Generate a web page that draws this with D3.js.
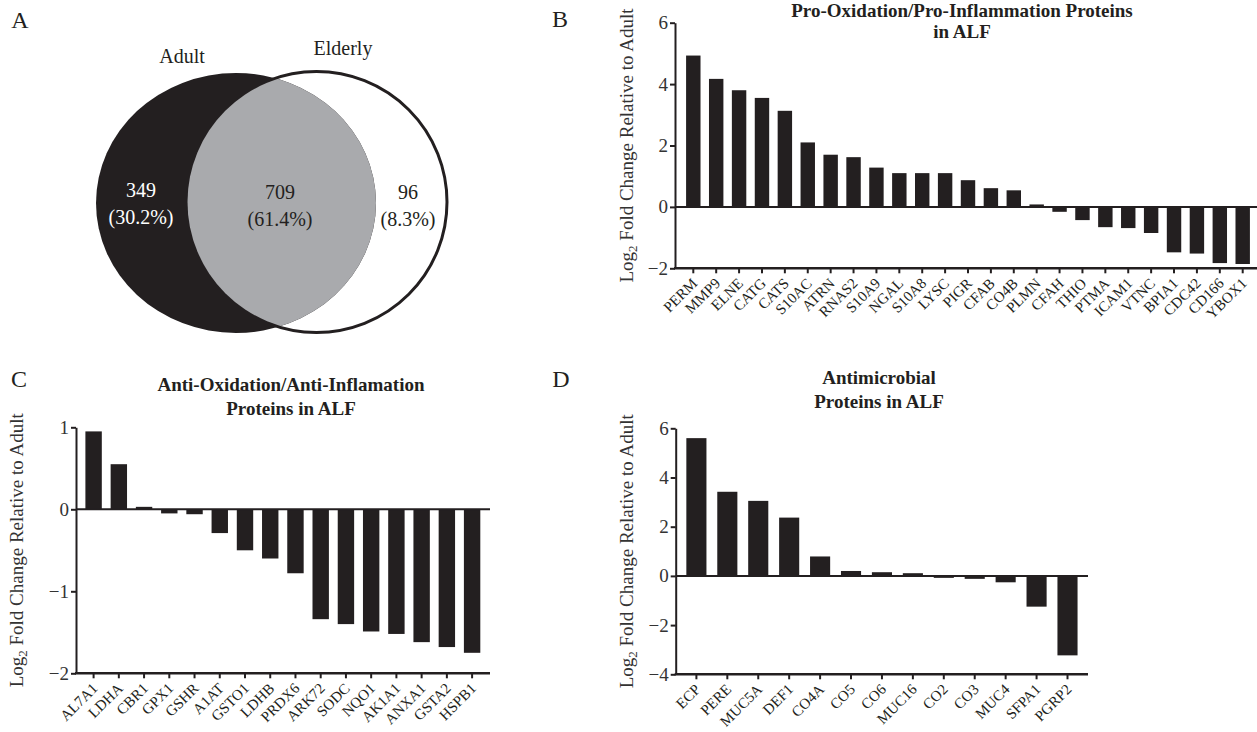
<!DOCTYPE html>
<html>
<head>
<meta charset="utf-8">
<script src="https://cdn.jsdelivr.net/npm/d3@7"></script>
<style>
  html, body { margin: 0; padding: 0; background: #fff; }
  svg { display: block; font-family: "Liberation Serif", "DejaVu Serif", serif; }
</style>
</head>
<body>
<svg id="chart" width="1257" height="732"></svg>
<script>
// ---------------- DATA ----------------
const vennSets = ["Adult", "Elderly"];
const vennCounts = [349, 709, 96];
const vennPercents = ["30.2%", "61.4%", "8.3%"];

const proCategories = ["PERM","MMP9","ELNE","CATG","CATS","S10AC","ATRN","RNAS2","S10A9","NGAL","S10A8","LYSC","PIGR","CFAB","CO4B","PLMN","CFAH","THIO","PTMA","ICAM1","VTNC","BPIA1","CDC42","CD166","YBOX1"];
const proValues = [4.93, 4.17, 3.8, 3.55, 3.13, 2.1, 1.7, 1.62, 1.28, 1.1, 1.1, 1.1, 0.87, 0.61, 0.54, 0.08, -0.16, -0.43, -0.66, -0.69, -0.85, -1.48, -1.52, -1.83, -1.86];
const proTicks = [-2, 0, 2, 4, 6];

const antiOxCategories = ["AL7A1","LDHA","CBR1","GPX1","GSHR","A1AT","GSTO1","LDHB","PRDX6","ARK72","SODC","NQO1","AK1A1","ANXA1","GSTA2","HSPB1"];
const antiOxValues = [0.95, 0.55, 0.03, -0.05, -0.06, -0.29, -0.5, -0.6, -0.78, -1.34, -1.4, -1.49, -1.52, -1.62, -1.68, -1.75];
const antiOxTicks = [-2, -1, 0, 1];

const antimicrobialCategories = ["ECP","PERE","MUC5A","DEF1","CO4A","CO5","CO6","MUC16","CO2","CO3","MUC4","SFPA1","PGRP2"];
const antimicrobialValues = [5.6, 3.42, 3.05, 2.37, 0.79, 0.2, 0.15, 0.11, -0.08, -0.12, -0.26, -1.25, -3.23];
const antimicrobialTicks = [-4, -2, 0, 2, 4, 6];

const titles = {
  B: ["Pro-Oxidation/Pro-Inflammation Proteins", "in ALF"],
  C: ["Anti-Oxidation/Anti-Inflamation", "Proteins in ALF"],
  D: ["Antimicrobial", "Proteins in ALF"]
};

// ---------------- DRAW ----------------
const INK = "#231f20";
const svg = d3.select("#chart");
const fmt = d => (d < 0 ? "\u2212" + Math.abs(d) : String(d));

function panelLetter(t, x, y) {
  svg.append("text").attr("x", x).attr("y", y).attr("text-anchor", "middle")
    .attr("font-size", 24).attr("fill", INK).text(t);
}

// Venn (A)
panelLetter("A", 20, 28);
(function () {
  const g = svg.append("g");
  const adult = { cx: 236, cy: 203, rx: 140, ry: 130 };
  const eld = { cx: 316.5, cy: 202, r: 130.5 };
  const defs = svg.append("defs");
  defs.append("clipPath").attr("id", "adultClip")
    .append("ellipse").attr("cx", adult.cx).attr("cy", adult.cy).attr("rx", adult.rx).attr("ry", adult.ry);
  g.append("circle").attr("cx", eld.cx).attr("cy", eld.cy).attr("r", eld.r)
    .attr("fill", "#fff").attr("stroke", INK).attr("stroke-width", 3);
  g.append("ellipse").attr("cx", adult.cx).attr("cy", adult.cy).attr("rx", adult.rx).attr("ry", adult.ry)
    .attr("fill", INK);
  g.append("circle").attr("cx", eld.cx).attr("cy", eld.cy).attr("r", eld.r - 1.5)
    .attr("fill", "#a9aaad").attr("clip-path", "url(#adultClip)");

  g.append("text").attr("x", 182).attr("y", 63).attr("text-anchor", "middle")
    .attr("font-size", 20).attr("fill", INK).text(vennSets[0]);
  g.append("text").attr("x", 343).attr("y", 55).attr("text-anchor", "middle")
    .attr("font-size", 20).attr("fill", INK).text(vennSets[1]);

  const pos = [[141, 197], [280, 199], [408, 199]];
  const cols = ["#ffffff", INK, INK];
  vennCounts.forEach((c, i) => {
    g.append("text").attr("x", pos[i][0]).attr("y", pos[i][1]).attr("text-anchor", "middle")
      .attr("font-size", 20).attr("fill", cols[i]).text(c);
    g.append("text").attr("x", pos[i][0]).attr("y", pos[i][1] + 27).attr("text-anchor", "middle")
      .attr("font-size", 20).attr("fill", cols[i]).text("(" + vennPercents[i] + ")");
  });
})();

function barPanel(cfg) {
  const g = svg.append("g");
  const y = d3.scaleLinear().domain(cfg.domain).range([cfg.yBottom, cfg.yTop]);
  const step = (cfg.lastCenter - cfg.firstCenter) / (cfg.categories.length - 1);
  const x = d3.scaleBand().domain(cfg.categories)
    .range([cfg.firstCenter - step / 2, cfg.lastCenter + step / 2])
    .paddingInner(cfg.pad).paddingOuter(cfg.pad / 2);

  // bars
  g.selectAll("rect.bar").data(cfg.values).join("rect")
    .attr("class", "bar")
    .attr("x", (d, i) => x(cfg.categories[i]))
    .attr("width", x.bandwidth())
    .attr("y", d => y(Math.max(0, d)))
    .attr("height", d => Math.abs(y(d) - y(0)))
    .attr("fill", INK);

  // zero line
  g.append("line").attr("x1", cfg.axisX).attr("x2", cfg.axisEnd)
    .attr("y1", y(0)).attr("y2", y(0)).attr("stroke", INK).attr("stroke-width", 2);

  // y axis
  const ya = g.append("g").attr("transform", `translate(${cfg.axisX},0)`)
    .call(d3.axisLeft(y).tickValues(cfg.ticks).tickFormat(fmt).tickSize(5).tickSizeOuter(0).tickPadding(2));
  ya.select(".domain").attr("stroke", INK).attr("stroke-width", 2);
  ya.selectAll(".tick line").attr("stroke", INK).attr("stroke-width", 2);
  ya.selectAll(".tick text").attr("font-size", 19).attr("fill", "#333")
    .attr("font-family", "Liberation Serif, serif");

  // x axis (bottom)
  const yb = cfg.yBottom;
  g.append("line").attr("x1", cfg.axisX - 1).attr("x2", cfg.axisEnd)
    .attr("y1", yb).attr("y2", yb).attr("stroke", INK).attr("stroke-width", 2.5);
  const xa = g.append("g").attr("transform", `translate(0,${yb})`)
    .call(d3.axisBottom(x).tickSize(5).tickSizeOuter(0));
  xa.select(".domain").remove();
  xa.selectAll(".tick line").attr("stroke", INK).attr("stroke-width", 2);
  xa.selectAll(".tick text")
    .attr("font-size", 15).attr("fill", INK).attr("font-family", "Liberation Serif, serif")
    .attr("text-anchor", "end").attr("dy", null).attr("y", 0)
    .attr("transform", "translate(5,16) rotate(-45)");

  // y label
  const ymid = (cfg.yTop + cfg.yBottom) / 2;
  const lab = g.append("text").attr("transform", `translate(${cfg.labelX},${ymid}) rotate(-90)`)
    .attr("text-anchor", "middle").attr("font-size", 19).attr("fill", "#333");
  lab.append("tspan").text("Log");
  lab.append("tspan").attr("font-size", 13).attr("dy", 4).text("2");
  lab.append("tspan").attr("dy", -4).text(" Fold Change Relative to Adult");

  // title
  cfg.title.forEach((t, i) => {
    g.append("text").attr("x", cfg.titleX).attr("y", cfg.titleY + i * cfg.titleGap)
      .attr("text-anchor", "middle").attr("font-size", 19).attr("font-weight", "bold")
      .attr("fill", INK).text(t);
  });
}

panelLetter("B", 560, 27);
barPanel({
  categories: proCategories, values: proValues, ticks: proTicks,
  domain: [-2, 6], yTop: 22.7, yBottom: 268.3,
  axisX: 675, axisEnd: 1257, firstCenter: 693.3, lastCenter: 1242.7, pad: 0.37,
  labelX: 633, titleX: 962, titleY: 17, titleGap: 21, title: titles.B
});

panelLetter("C", 19, 387);
barPanel({
  categories: antiOxCategories, values: antiOxValues, ticks: antiOxTicks,
  domain: [-2, 1], yTop: 427.3, yBottom: 673.3,
  axisX: 76, axisEnd: 490, firstCenter: 93.6, lastCenter: 472.1, pad: 0.35,
  labelX: 23, titleX: 291, titleY: 391, titleGap: 24, title: titles.C
});

panelLetter("D", 561, 387);
barPanel({
  categories: antimicrobialCategories, values: antimicrobialValues, ticks: antimicrobialTicks,
  domain: [-4, 6], yTop: 428.3, yBottom: 674.3,
  axisX: 675.7, axisEnd: 1088, firstCenter: 696.4, lastCenter: 1067.5, pad: 0.35,
  labelX: 633, titleX: 879, titleY: 384, titleGap: 24, title: titles.D
});
</script>
</body>
</html>
